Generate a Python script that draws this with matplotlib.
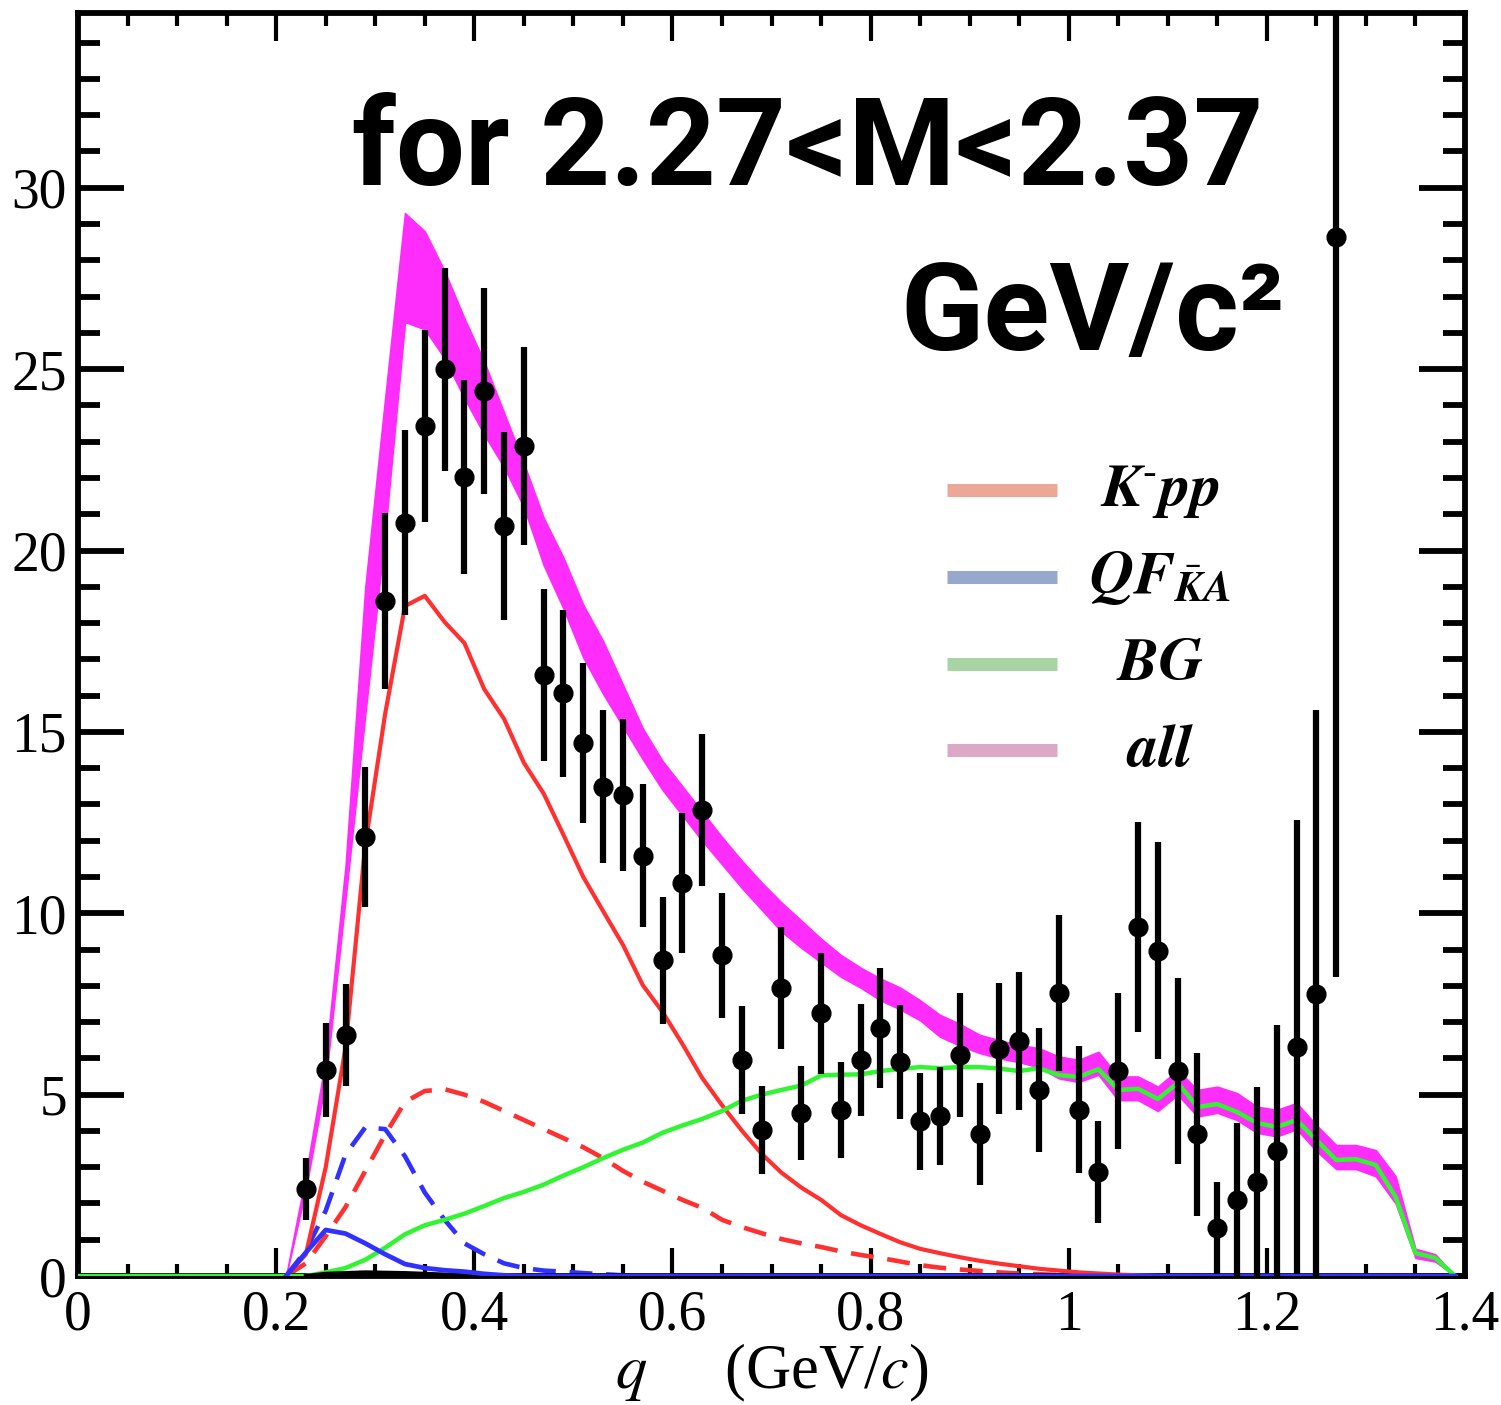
import numpy as np
import matplotlib
matplotlib.use("Agg")
import matplotlib.pyplot as plt
from matplotlib.ticker import MultipleLocator, FixedLocator, FixedFormatter
from matplotlib.lines import Line2D

plt.rcParams["mathtext.fontset"] = "stix"
plt.rcParams["font.family"] = ["Liberation Serif", "DejaVu Serif"]

# measured spectrum: bin centres, counts, symmetric errors
q_data = [0.23, 0.25, 0.27, 0.29, 0.31, 0.33, 0.35, 0.37, 0.39, 0.41, 0.43, 0.45,
          0.47, 0.49, 0.51, 0.53, 0.55, 0.57, 0.59, 0.61, 0.63, 0.65, 0.67, 0.69,
          0.71, 0.73, 0.75, 0.77, 0.79, 0.81, 0.83, 0.85, 0.87, 0.89, 0.91, 0.93,
          0.95, 0.97, 0.99, 1.01, 1.03, 1.05, 1.07, 1.09, 1.11, 1.13, 1.15, 1.17,
          1.19, 1.21, 1.23, 1.25, 1.27]
counts = [2.4, 5.68, 6.65, 12.1, 18.6, 20.77, 23.43, 25.0, 22.03, 24.4, 20.68, 22.88,
          16.57, 16.07, 14.69, 13.49, 13.26, 11.58, 8.7, 10.84, 12.85, 8.84, 5.95, 4.02,
          7.95, 4.5, 7.24, 4.58, 5.95, 6.84, 5.9, 4.26, 4.4, 6.08, 3.92, 6.27,
          6.48, 5.13, 7.8, 4.58, 2.87, 5.65, 9.62, 8.97, 5.65, 3.91, 1.32, 2.1,
          2.59, 3.45, 6.31, 7.77, 28.65]
errors = [0.86, 1.3, 1.4, 1.94, 2.43, 2.55, 2.65, 2.8, 2.68, 2.84, 2.59, 2.74,
          2.37, 2.3, 2.2, 2.1, 2.1, 1.97, 1.74, 1.93, 2.1, 1.73, 1.48, 1.21,
          1.68, 1.3, 1.67, 1.32, 1.54, 1.66, 1.58, 1.35, 1.35, 1.71, 1.4, 1.8,
          1.9, 1.71, 2.15, 1.75, 1.4, 2.14, 2.9, 3.0, 2.56, 2.25, 1.27, 2.12,
          2.62, 3.47, 6.26, 7.83, 20.4]

# fit components on the model grid q = 0.21 ... 1.39
q_model = np.round(np.linspace(0.21, 1.39, 60), 2)
all_hi = [0.0, 2.8, 6.0, 11.3, 19.0, 24.2, 29.3, 28.8, 27.7, 26.4, 25.2, 23.8,
          22.4, 20.9, 19.8, 18.5, 17.5, 16.3, 15.1, 14.2, 13.5, 12.8, 12.1, 11.45,
          10.85, 10.3, 9.8, 9.3, 8.85, 8.5, 8.2, 7.95, 7.6, 7.2, 6.95, 6.65,
          6.5, 6.37, 6.28, 6.05, 5.96, 6.18, 5.5, 5.5, 5.22, 5.68, 5.13, 5.22,
          5.04, 4.67, 4.58, 4.77, 4.16, 3.61, 3.61, 3.47, 2.75, 0.75, 0.6, 0.0]
all_lo = [0.0, 2.4, 5.4, 10.4, 15.5, 20.5, 26.3, 26.1, 25.3, 24.2, 23.2, 22.3,
          21.2, 19.6, 18.4, 17.05, 16.05, 15.15, 14.25, 13.4, 12.7, 12.0, 11.35, 10.7,
          10.1, 9.5, 9.05, 8.65, 8.25, 7.95, 7.6, 7.35, 7.05, 6.6, 6.35, 6.15,
          6.0, 5.9, 5.75, 5.45, 5.35, 5.55, 4.85, 4.85, 4.55, 5.0, 4.4, 4.5,
          4.3, 3.95, 3.85, 4.05, 3.45, 2.95, 2.95, 2.75, 2.0, 0.5, 0.4, 0.0]
kpp = [0.0, 0.6, 3.0, 6.3, 11.9, 15.5, 18.47, 18.75, 18.03, 17.45, 16.18, 15.36,
       14.15, 13.3, 12.16, 11.0, 10.06, 9.13, 8.02, 7.28, 6.4, 5.46, 4.71, 4.01,
       3.37, 2.85, 2.44, 2.1, 1.68, 1.4, 1.16, 0.93, 0.75, 0.63, 0.52, 0.42,
       0.34, 0.27, 0.2, 0.15, 0.1, 0.07, 0.04, 0.02, 0.0, 0.0, 0.0, 0.0,
       0.0, 0.0, 0.0, 0.0, 0.0, 0.0, 0.0, 0.0, 0.0, 0.0, 0.0, 0.0]
kpp_alt = [0.0, 0.35, 1.1, 1.9, 2.9, 3.9, 4.8, 5.1, 5.15, 5.0, 4.8, 4.55,
           4.3, 4.05, 3.8, 3.55, 3.25, 2.9, 2.6, 2.35, 2.1, 1.88, 1.55, 1.35,
           1.18, 1.02, 0.9, 0.8, 0.68, 0.58, 0.5, 0.4, 0.3, 0.23, 0.18, 0.14,
           0.1, 0.07, 0.05, 0.03, 0.0, 0.0, 0.0, 0.0, 0.0, 0.0, 0.0, 0.0,
           0.0, 0.0, 0.0, 0.0, 0.0, 0.0, 0.0, 0.0, 0.0, 0.0, 0.0, 0.0]
qf = [0.0, 0.65, 1.27, 1.17, 0.9, 0.6, 0.33, 0.22, 0.16, 0.12, 0.06, 0.02,
      0.0, 0.0, 0.0, 0.0, 0.0, 0.0, 0.0, 0.0, 0.0, 0.0, 0.0, 0.0,
      0.0, 0.0, 0.0, 0.0, 0.0, 0.0, 0.0, 0.0, 0.0, 0.0, 0.0, 0.0,
      0.0, 0.0, 0.0, 0.0, 0.0, 0.0, 0.0, 0.0, 0.0, 0.0, 0.0, 0.0,
      0.0, 0.0, 0.0, 0.0, 0.0, 0.0, 0.0, 0.0, 0.0, 0.0, 0.0, 0.0]
qf_alt = [0.0, 0.7, 1.8, 3.35, 4.1, 4.05, 3.3, 2.3, 1.55, 0.9, 0.6, 0.35,
          0.22, 0.15, 0.12, 0.08, 0.05, 0.02, 0.0, 0.0, 0.0, 0.0, 0.0, 0.0,
          0.0, 0.0, 0.0, 0.0, 0.0, 0.0, 0.0, 0.0, 0.0, 0.0, 0.0, 0.0,
          0.0, 0.0, 0.0, 0.0, 0.0, 0.0, 0.0, 0.0, 0.0, 0.0, 0.0, 0.0,
          0.0, 0.0, 0.0, 0.0, 0.0, 0.0, 0.0, 0.0, 0.0, 0.0, 0.0, 0.0]
bg = [0.0, 0.0, 0.1, 0.22, 0.45, 0.78, 1.15, 1.4, 1.55, 1.72, 1.93, 2.15,
      2.32, 2.52, 2.77, 3.0, 3.25, 3.48, 3.68, 3.95, 4.15, 4.33, 4.55, 4.83,
      5.0, 5.13, 5.25, 5.53, 5.55, 5.56, 5.65, 5.71, 5.76, 5.73, 5.76, 5.76,
      5.72, 5.65, 5.73, 5.54, 5.49, 5.7, 5.13, 5.16, 4.88, 5.32, 4.66, 4.74,
      4.52, 4.22, 4.11, 4.3, 3.75, 3.2, 3.22, 3.06, 2.18, 0.63, 0.5, 0.0]
# small extra component hugging the baseline
q_extra = [0.23, 0.25, 0.29, 0.33, 0.37, 0.41]
extra = [0.0, 0.06, 0.1, 0.08, 0.04, 0.0]

x_ticks = [0, 0.2, 0.4, 0.6, 0.8, 1.0, 1.2, 1.4]
x_tick_labels = ["0", "0.2", "0.4", "0.6", "0.8", "1", "1.2", "1.4"]
y_ticks = [0, 5, 10, 15, 20, 25, 30]
y_tick_labels = ["0", "5", "10", "15", "20", "25", "30"]

legend_labels = ["$\\mathbfit{K}^{\u2010}\\mathbfit{pp}$",
                 r"$\mathbfit{QF}_{\bar{\mathbfit{K}}\mathbfit{A}}$",
                 r"$\mathbfit{BG}$",
                 r"$\mathbfit{all}$"]
legend_colors = ["#eba898", "#98a8cc", "#a8d4a4", "#dba8c6"]

RED, BLUE, GREEN, MAGENTA = "#ff3030", "#3030ff", "#30f530", "#ff2dfc"

fig = plt.figure(figsize=(15.01, 14.05), dpi=100)
ax = fig.add_axes([0.052, 0.0918, 0.924, 0.899])

ax.fill_between(q_model, all_lo, all_hi, color=MAGENTA, lw=1.2, zorder=1)
ax.plot(q_model, kpp_alt, color=RED, lw=3.3, dashes=(5, 3), zorder=2)
ax.plot(q_model, qf_alt, color=BLUE, lw=3.3, dashes=(5, 3), zorder=2)
ax.plot(q_model, kpp, color=RED, lw=3, zorder=3)
ax.plot(np.concatenate([[0.0], q_model]), [0.0] + bg, color=GREEN, lw=3.2, zorder=4)
ax.plot(q_extra, extra, color="black", lw=3, zorder=4)
ax.plot(q_model, qf, color=BLUE, lw=3.4, zorder=5)

ax.errorbar(q_data, counts, yerr=errors, fmt="o", color="black", ms=13.5,
            elinewidth=4.5, capsize=0, zorder=6, clip_on=True)

ax.set_xlim(0, 1.4)
ax.set_ylim(0, 34.82)

ax.xaxis.set_major_locator(FixedLocator(x_ticks))
ax.xaxis.set_major_formatter(FixedFormatter(x_tick_labels))
ax.xaxis.set_minor_locator(MultipleLocator(0.05))
ax.yaxis.set_major_locator(FixedLocator(y_ticks))
ax.yaxis.set_major_formatter(FixedFormatter(y_tick_labels))
ax.yaxis.set_minor_locator(MultipleLocator(1))

ax.tick_params(axis="both", which="both", direction="in", top=True, right=True, color="black")
ax.tick_params(axis="x", which="major", length=20, width=3, labelsize=40, pad=10)
ax.tick_params(axis="x", which="minor", length=9, width=3)
ax.tick_params(axis="y", which="major", length=33, width=4.2, labelsize=40, pad=8)
ax.tick_params(axis="y", which="minor", length=16, width=4.2)
for sp in ax.spines.values():
    sp.set_linewidth(4.2)

ax.set_xlabel(r"$q$     (GeV/$c$)", fontsize=45, labelpad=0)

# legend drawn by hand: short thick bars with centred labels
leg_y = [0.6223, 0.5534, 0.4845, 0.4164]
for yy, col, lab in zip(leg_y, legend_colors, legend_labels):
    ax.add_line(Line2D([0.6264, 0.7057], [yy, yy], transform=ax.transAxes,
                       color=col, lw=9.4, solid_capstyle="butt", zorder=7))
    ax.text(0.78, yy - 0.013, lab, transform=ax.transAxes, fontsize=44,
            ha="center", va="baseline", zorder=7)

fig.text(0.2345, 0.8683, "for 2.27<M<2.37", family="Roboto", weight="bold",
         fontsize=88, ha="left", va="baseline")
fig.text(0.856, 0.751, "GeV/c²", family="Roboto", weight="bold",
         fontsize=88, ha="right", va="baseline")

fig.savefig("out.png", dpi=100)
